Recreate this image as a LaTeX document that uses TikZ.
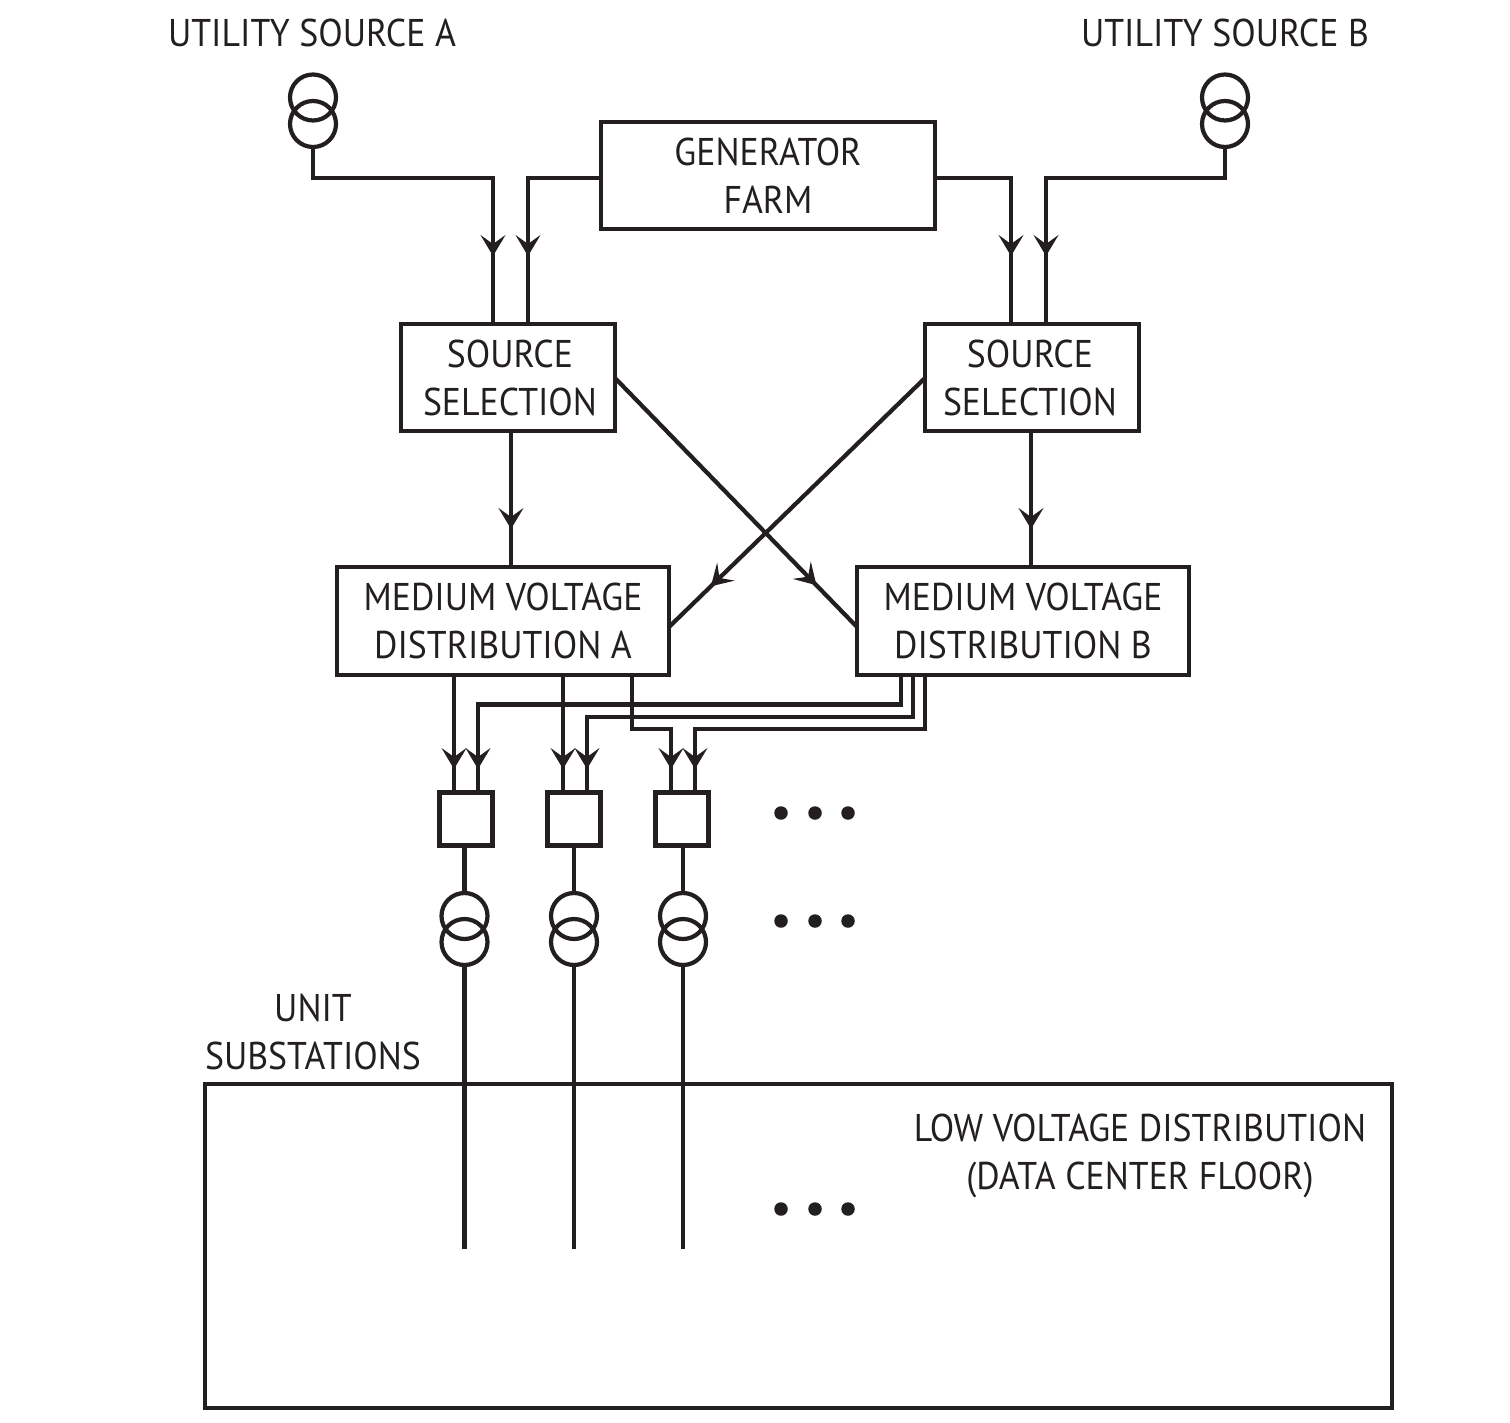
\documentclass[tikz,border=0pt]{standalone}
\usepackage{fontspec}
\setmainfont[FakeStretch=0.925]{PT Sans}
\usetikzlibrary{arrows.meta,decorations.markings}
\definecolor{inkblack}{HTML}{231F20}
\tikzset{
	line/.style = {draw = inkblack, line width = 1.2pt},
	block/.style = {line, rectangle, align = center, inner sep = 0pt, outer sep = 0pt, text = inkblack},
	caption/.style = {align = center, inner sep = 0pt, text = inkblack},
	winding/.style = {line, circle, minimum size = 0.46cm, inner sep = 0pt, outer sep = 0pt},
	dotmark/.style = {circle, fill = inkblack, minimum size = 0.135cm, inner sep = 0pt},
	midtip/.style = {postaction = {decorate, decoration = {markings,
		mark = at position -#1 cm with {\arrow[inkblack]{Stealth[length = 0.21cm, width = 0.25cm, inset = 0.09cm, line width = 0.6pt]}}}}}
}

\begin{document}
\begin{tikzpicture}[font = \fontsize{11}{13.65}\selectfont]
	\useasboundingbox (0, 0) rectangle (15.10, 14.22);

	\node (UTA) at ( 3.12, 13.89) [caption] {UTILITY SOURCE A};
	\node (UTB) at (12.25, 13.89) [caption] {UTILITY SOURCE B};
	\node (US)  at ( 3.13,  3.90) [caption] {UNIT\\SUBSTATIONS};

	\node (GF)  at ( 7.68, 12.465) [block, minimum width = 3.34cm, minimum height = 1.07cm] {GENERATOR\\FARM};
	\node (SSA) at ( 5.08, 10.445) [block, minimum width = 2.14cm, minimum height = 1.07cm] {\hspace*{0.04cm}SOURCE\\\hspace*{0.04cm}SELECTION};
	\node (SSB) at (10.32, 10.445) [block, minimum width = 2.14cm, minimum height = 1.07cm] {SOURCE\hspace*{0.04cm}\\SELECTION\hspace*{0.04cm}};
	\node (MVA) at ( 5.03,  8.01) [block, minimum width = 3.32cm, minimum height = 1.08cm] {MEDIUM VOLTAGE\\DISTRIBUTION A};
	\node (MVB) at (10.23,  8.01) [block, minimum width = 3.32cm, minimum height = 1.08cm] {MEDIUM VOLTAGE\\DISTRIBUTION B};
	\node (LV)  at ( 7.985, 1.76) [block, minimum width = 11.87cm, minimum height = 3.24cm] {};
	\node (LVT) at (11.40,  2.66) [caption] {LOW VOLTAGE DISTRIBUTION\\(DATA CENTER FLOOR)};

	\node (TAu) at ( 3.13, 13.245) [winding] {};
	\node (TAl) at ( 3.13, 12.98) [winding] {};
	\node (TBu) at (12.25, 13.245) [winding] {};
	\node (TBl) at (12.25, 12.98) [winding] {};

	% unit substations
	\foreach \n/\bx/\tx in {1/4.66/4.645, 2/5.74/5.74, 3/6.82/6.83} {
		\node (CB\n) at (\bx, 6.03) [block, minimum size = 0.53cm] {};
		\node (TU\n) at (\tx, 5.06) [winding] {};
		\node (TL\n) at (\tx, 4.80) [winding] {};
		\coordinate (END\n) at (\tx, 1.73);
		\draw [line] (CB\n.south -| TU\n) -- (TU\n.north);
		\draw [line] (TL\n.south) -- (END\n);
	}

	% ports on the block edges
	\foreach \name/\x in {a/4.93, b/5.28, c/10.11, d/10.46}
		\coordinate (SS\name) at (\x, 10.98);
	\foreach \name/\x in {a/4.54, b/5.63, c/6.32}
		\coordinate (MA\name) at (\x, 7.47);
	\foreach \name/\x in {a/9.01, b/9.13, c/9.25}
		\coordinate (MB\name) at (\x, 7.47);
	\foreach \name/\x in {a/4.54, b/4.78, c/5.63, d/5.87, e/6.71, f/6.95}
		\coordinate (CB\name) at (\x, 6.295);

	\draw [line, midtip = 0.68] (TAl.south) |- (SSa |- 0, 12.44) -- (SSa);
	\draw [line, midtip = 0.68] (GF.west |- 0, 12.44) -| (SSb);
	\draw [line, midtip = 0.68] (GF.east |- 0, 12.44) -| (SSc);
	\draw [line, midtip = 0.68] (TBl.south) |- (SSd |- 0, 12.44) -- (SSd);

	\draw [line, midtip = 0.38] (SSA.south -| 5.11, 0) -- (MVA.north -| 5.11, 0);
	\draw [line, midtip = 0.38] (SSB.south -| 10.31, 0) -- (MVB.north -| 10.31, 0);
	\draw [line, midtip = 0.58] (SSA.east |- 0, 10.44) -- (MVB.west |- 0, 7.95);
	\draw [line, midtip = 0.58] (SSB.west |- 0, 10.44) -- (MVA.east |- 0, 7.95);

	\foreach \from/\to in {MAa/CBa, MAb/CBc}
		\draw [line, midtip = 0.235] (\from) -- (\to);
	\foreach \from/\lev/\to in {MBa/7.175/CBb, MBb/7.05/CBd, MBc/6.93/CBf}
		\draw [line, midtip = 0.235] (\from) |- (\to |- 0, \lev) -- (\to);
	\draw [line, midtip = 0.235] (MAc) |- (CBe |- 0, 6.93) -- (CBe);

	% ellipsis
	\foreach \y/\row in {6.09/a, 5.01/b, 2.13/c}
		\foreach \x/\col in {7.81/1, 8.15/2, 8.48/3}
			\node (DOT\row\col) at (\x, \y) [dotmark] {};
\end{tikzpicture}
\end{document}
